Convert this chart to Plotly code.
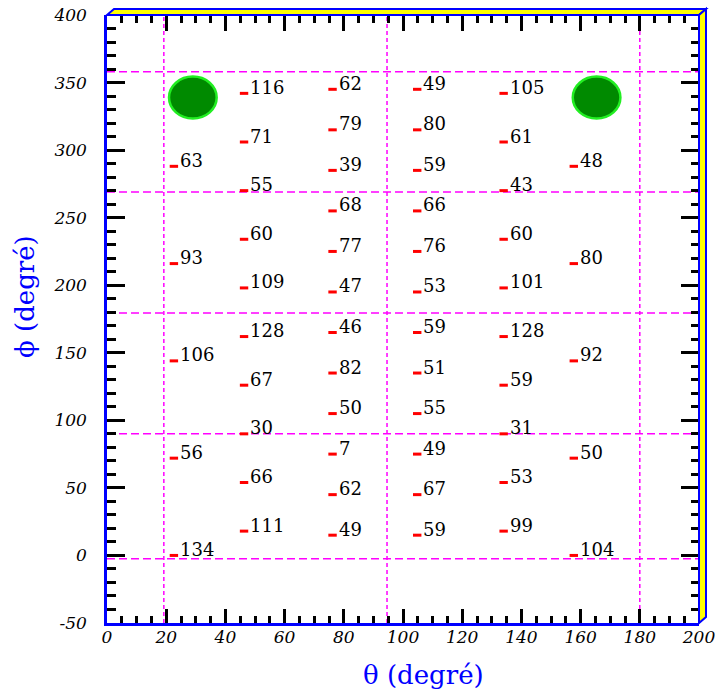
import plotly.graph_objects as go

# ---------------- data ----------------
col1_theta = 22.6
col1_phi = [0, 72, 144, 216, 288]
col1_val = [134, 56, 106, 93, 63]

col2_theta = 46.3
col2_phi = [18, 54, 90, 126, 162, 198, 234, 270, 306, 342]
col2_val = [111, 66, 30, 67, 128, 109, 60, 55, 71, 116]

col3_theta = 76.2
col3_phi = [15, 45, 75, 105, 135, 165, 195, 225, 255, 285, 315, 345]
col3_val = [49, 62, 7, 50, 82, 46, 47, 77, 68, 39, 79, 62]

col4_theta = 104.8
col4_phi = [15, 45, 75, 105, 135, 165, 195, 225, 255, 285, 315, 345]
col4_val = [59, 67, 49, 55, 51, 59, 53, 76, 66, 59, 80, 49]

col5_theta = 134.0
col5_phi = [18, 54, 90, 126, 162, 198, 234, 270, 306, 342]
col5_val = [99, 53, 31, 59, 128, 101, 60, 43, 61, 105]

col6_theta = 157.7
col6_phi = [0, 72, 144, 216, 288]
col6_val = [104, 50, 92, 80, 48]

grid_theta = [19.2, 94.6, 180]
grid_phi = [-2.5, 90, 179.5, 269, 358]

circle_theta = [29.0, 165.4]
circle_phi = [338.9, 338.9]

x_ticks = [0, 20, 40, 60, 80, 100, 120, 140, 160, 180, 200]
x_ticktext = ["0", "20", "40", "60", "80", "100", "120", "140", "160", "180", "200"]
y_ticks = [-50, 0, 50, 100, 150, 200, 250, 300, 350, 400]
y_ticktext = ["-50", "0", "50", "100", "150", "200", "250", "300", "350", "400"]

# ---------------- figure ----------------
W, H = 715, 692
PLOT_LEFT, PLOT_RIGHT, PLOT_TOP, PLOT_BOTTOM = 107, 699, 15, 623  # page pixels
L = PLOT_LEFT
R = W - PLOT_RIGHT
T = PLOT_TOP
B = H - PLOT_BOTTOM
plot_w = W - L - R
plot_h = H - T - B

columns = [
    (col1_theta, col1_phi, col1_val),
    (col2_theta, col2_phi, col2_val),
    (col3_theta, col3_phi, col3_val),
    (col4_theta, col4_phi, col4_val),
    (col5_theta, col5_phi, col5_val),
    (col6_theta, col6_phi, col6_val),
]

xs, ys, labels = [], [], []
for th, phis, vals in columns:
    for p, v in zip(phis, vals):
        xs.append(th)
        ys.append(p)
        labels.append(str(v))

fig = go.Figure()
fig.add_trace(go.Scatter(
    x=xs, y=ys, mode="markers",
    marker=dict(symbol="line-ew", size=6, color="red",
                line=dict(color="red", width=3)),
    hoverinfo="skip", showlegend=False,
))
# invisible trace to activate the mirrored (top/right) axes
fig.add_trace(go.Scatter(x=[0], y=[0], xaxis="x2", yaxis="y2", mode="markers",
                         marker=dict(opacity=0), showlegend=False, hoverinfo="skip"))

serif = "DejaVu Serif"
for x, y, t in zip(xs, ys, labels):
    fig.add_annotation(x=x, y=y, text=t, showarrow=False, xanchor="left",
                       yanchor="middle", xshift=4, yshift=6,
                       font=dict(family=serif, size=18, color="black"))

# grid lines
for gx in grid_theta:
    fig.add_shape(type="line", xref="x", yref="paper", x0=gx, x1=gx, y0=0, y1=1,
                  line=dict(color="#ff00ff", width=1.5, dash="4px,3px"), layer="below")
for gy in grid_phi:
    fig.add_shape(type="line", xref="paper", yref="y", x0=0, x1=1, y0=gy, y1=gy,
                  line=dict(color="#ff00ff", width=1.5, dash="8px,4px"), layer="below")

# green circles
for cx, cy in zip(circle_theta, circle_phi):
    fig.add_shape(type="circle", xref="x", yref="y",
                  x0=cx - 8.05, x1=cx + 8.05, y0=cy - 15.5, y1=cy + 15.5,
                  fillcolor="#008a00", line=dict(color="#22ee22", width=2.5), layer="above")

# 3D frame (top and right faces)
dx = 7 / plot_w
dy = 6 / plot_h
fig.add_shape(type="path", xref="paper", yref="paper",
              path=f"M 0 1 L 1 1 L {1+dx} {1+dy} L {dx} {1+dy} Z",
              fillcolor="yellow", line=dict(color="blue", width=2), layer="above")
fig.add_shape(type="path", xref="paper", yref="paper",
              path=f"M 1 1 L {1+dx} {1+dy} L {1+dx} {dy} L 1 0 Z",
              fillcolor="yellow", line=dict(color="blue", width=2), layer="above")

tickfont = dict(family=serif, size=17, color="black", style="italic")

fig.update_layout(
    width=W, height=H,
    margin=dict(l=L, r=R, t=T, b=B, pad=0, autoexpand=False),
    paper_bgcolor="white", plot_bgcolor="white",
    showlegend=False,
    xaxis=dict(
        range=[0, 200], tickmode="array", tickvals=x_ticks, ticktext=x_ticktext,
        ticks="inside", ticklen=14, tickwidth=3, tickcolor="black",
        minor=dict(dtick=5, tick0=0, ticks="inside", ticklen=7, tickwidth=2.5,
                   tickcolor="black", showgrid=False),
        showgrid=False, zeroline=False, showline=True, linecolor="blue", linewidth=2.5,
        tickfont=tickfont, ticklabelstandoff=-3, ticklabeloverflow="allow",
        fixedrange=True, automargin=False,
    ),
    yaxis=dict(
        range=[-50, 400], tickmode="array", tickvals=y_ticks, ticktext=y_ticktext,
        ticks="inside", ticklen=18, tickwidth=3, tickcolor="black",
        minor=dict(dtick=10, tick0=0, ticks="inside", ticklen=9, tickwidth=2.5,
                   tickcolor="black", showgrid=False),
        showgrid=False, zeroline=False, showline=True, linecolor="blue", linewidth=2.5,
        tickfont=tickfont, ticklabelstandoff=14, ticklabeloverflow="allow",
        fixedrange=True, automargin=False,
    ),
    xaxis2=dict(
        overlaying="x", side="top", anchor="y", range=[0, 200],
        tickmode="array", tickvals=x_ticks, showticklabels=False,
        ticks="inside", ticklen=16, tickwidth=3, tickcolor="black",
        minor=dict(dtick=5, tick0=0, ticks="inside", ticklen=8, tickwidth=2.5,
                   tickcolor="black", showgrid=False),
        showgrid=False, zeroline=False, showline=False, fixedrange=True, automargin=False,
    ),
    yaxis2=dict(
        overlaying="y", side="right", anchor="x", range=[-50, 400],
        tickmode="array", tickvals=y_ticks, showticklabels=False,
        ticks="inside", ticklen=18, tickwidth=3, tickcolor="black",
        minor=dict(dtick=10, tick0=0, ticks="inside", ticklen=8, tickwidth=2.5,
                   tickcolor="black", showgrid=False),
        showgrid=False, zeroline=False, showline=False, fixedrange=True, automargin=False,
    ),
)

# axis titles (positions given in page pixels)
fig.add_annotation(xref="paper", yref="paper",
                   x=(423 - PLOT_LEFT) / plot_w, y=(PLOT_BOTTOM - 675) / plot_h,
                   text="θ (degré)", showarrow=False, xanchor="center", yanchor="middle",
                   font=dict(family=serif, size=26, color="blue"))
fig.add_annotation(xref="paper", yref="paper",
                   x=(25 - PLOT_LEFT) / plot_w, y=(PLOT_BOTTOM - 297) / plot_h,
                   text="ϕ (degré)", showarrow=False, xanchor="center", yanchor="middle",
                   textangle=-90, font=dict(family=serif, size=26, color="blue"))

# remove the default 8px page margin so the figure fills the window exactly
fig.write_html("out.html", config={"displayModeBar": False},
               post_script="document.body.style.margin='0px';")
